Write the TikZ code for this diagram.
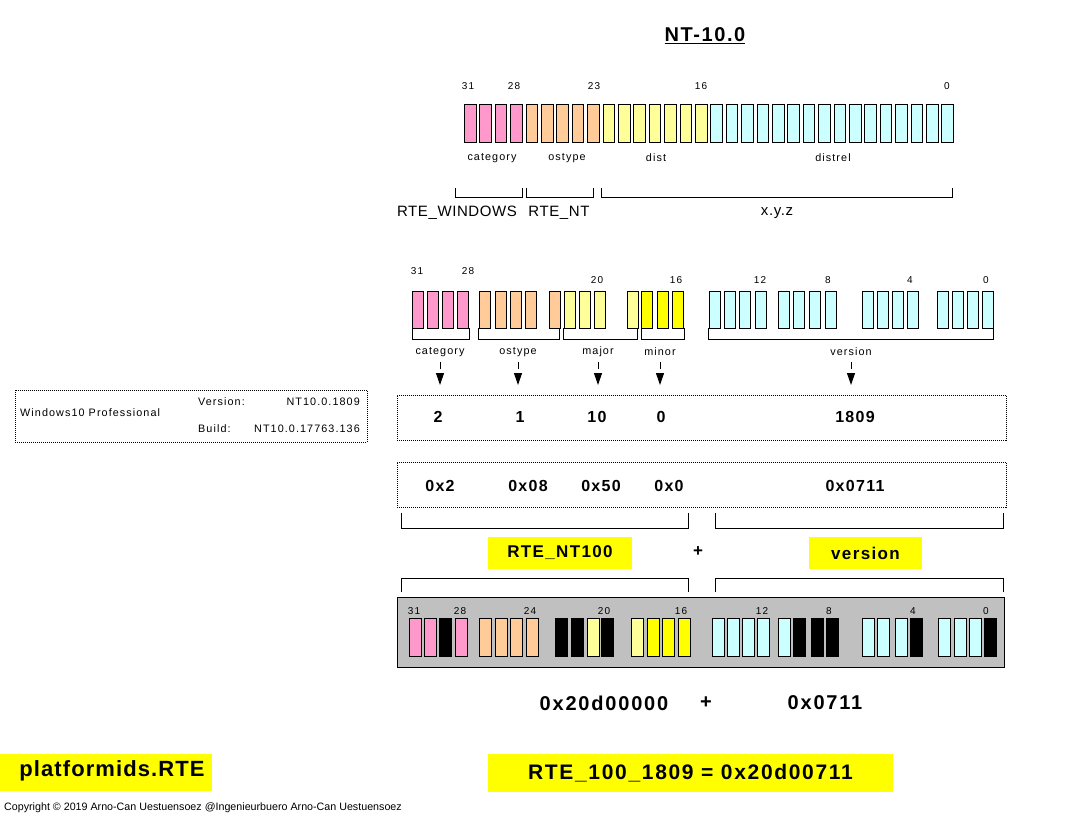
\documentclass[tikz,border=0pt]{standalone}
\usepackage{fontspec}
\setmainfont{Liberation Sans}
\newfontfamily\spf[LetterSpace=10]{Liberation Sans}
\newfontfamily\mdf[LetterSpace=4]{Liberation Sans}
\newfontfamily\bpf[LetterSpace=8]{Liberation Sans}
\newfontfamily\bgf[LetterSpace=9]{Liberation Sans}
\newfontfamily\bsf[LetterSpace=5]{Liberation Sans}
\usetikzlibrary{arrows.meta}
\definecolor{pk}{HTML}{FF99CC}
\definecolor{pc}{HTML}{FFCC99}
\definecolor{ly}{HTML}{FFFF99}
\definecolor{yl}{HTML}{FFFF00}
\definecolor{cy}{HTML}{CCFFFF}
\definecolor{bk}{HTML}{000000}
\definecolor{gr}{HTML}{C0C0C0}
\tikzset{
 bitbox/.style={draw=black, line width=1pt, inner sep=0pt, anchor=north west, minimum width=11.5pt, minimum height=38pt},
 bitnum/.style={font=\spf\fontsize{10}{11}\selectfont, inner sep=0pt},
 lbl/.style={font=\spf\fontsize{10.8}{12}\selectfont, inner sep=0pt},
 mid/.style={font=\mdf\fontsize{15}{17}\selectfont, inner sep=0pt},
 val/.style={font=\bpf\bfseries\fontsize{16}{18}\selectfont, inner sep=0pt},
 big/.style={font=\bgf\bfseries\fontsize{20}{22}\selectfont, inner sep=0pt},
 hl/.style={fill=yl, inner sep=0pt},
 brk/.style={line width=1pt},
 dotbox/.style={draw, line width=0.8pt, dash pattern=on 1pt off 1pt, inner sep=0pt, anchor=north west},
 arr/.style={line width=1pt, dash pattern=on 7pt off 40pt, shorten >=10pt, -{Triangle[length=12pt,width=8pt]}}
}
\begin{document}
\begin{tikzpicture}[x=1pt,y=-1pt]
\fill[white] (0,0) rectangle (1078,816);
\useasboundingbox (0,0) rectangle (1078,816);

% title
\node[font=\bpf\bfseries\fontsize{20}{24}\selectfont, inner sep=0pt] (title) at (705,36) {\underline{NT-10.0}};

% ---------- top bit row ----------
\foreach \c [count=\k from 0] in {pk,pk,pk,pk,pc,pc,pc,pc,pc,ly,ly,ly,ly,ly,ly,ly,cy,cy,cy,cy,cy,cy,cy,cy,cy,cy,cy,cy,cy,cy,cy,cy}{
  \pgfmathtruncatemacro\b{31-\k}
  \pgfmathsetmacro\bx{464+15.4*\k}
  \node[bitbox, fill=\c] (t\b) at (\bx,104) {};
}
\node[bitnum] (tn31) at (468,86) {31};
\node[bitnum] (tn28) at (514,86) {28};
\node[bitnum] (tn23) at (594,86) {23};
\node[bitnum] (tn16) at (701,86) {16};
\node[bitnum] (tn0) at (947,86) {0};
\node[lbl] (tcat) at (492,158) {category};
\node[lbl] (tos) at (567,158) {ostype};
\node[lbl] (tdist) at (656,158) {dist};
\node[lbl] (tdrel) at (833,158) {distrel};

\draw[brk] (455,188) |- (522,197) -- (522,188);
\draw[brk] (526,188) |- (593,197) -- (593,188);
\draw[brk] (601,188) |- (952,197) -- (952,188);
\node[mid] (rwin) at (457,213) {RTE\_WINDOWS};
\node[mid] (rnt) at (559,213) {RTE\_NT};
\node[mid] (xyz) at (777,213) {x.y.z};

% ---------- second bit row ----------
\foreach \x/\c [count=\k from 0] in {412/pk,427/pk,442/pk,457/pk,479/pc,495/pc,510/pc,525/pc,549/pc,564/ly,579/ly,594/ly,627/ly,641/yl,657/yl,672/yl,709/cy,724/cy,739/cy,755/cy,778/cy,793/cy,809/cy,825/cy,862/cy,877/cy,892/cy,907/cy,937/cy,952/cy,967/cy,982/cy}{
  \pgfmathtruncatemacro\b{31-\k}
  \node[bitbox, minimum width=11pt, minimum height=37pt, fill=\c] (m\b) at (\x,291) {};
}
\node[bitnum] (mn31) at (417,271) {31};
\node[bitnum] (mn28) at (468,271) {28};
\node[bitnum] (mn20) at (597,280) {20};
\node[bitnum] (mn16) at (676,280) {16};
\node[bitnum] (mn12) at (760,280) {12};
\node[bitnum] (mn8) at (828,280) {8};
\node[bitnum] (mn4) at (910,280) {4};
\node[bitnum] (mn0) at (986,280) {0};

\draw[brk] (412,328) |- (469,339) -- (469,328);
\draw[brk] (478,328) |- (559,339) -- (559,328);
\draw[brk] (563,328) |- (637,339) -- (637,328);
\draw[brk] (641,328) |- (684,339) -- (684,328);
\draw[brk] (708,328) |- (993,339) -- (993,328);
\node[lbl] (lcat) at (440,352) {category};
\node[lbl] (los) at (518,352) {ostype};
\node[lbl] (lmaj) at (598,352) {major};
\node[lbl] (lmin) at (660,352) {minor};
\node[lbl] (lver) at (851,352) {version};

% ---------- value boxes ----------
\node[dotbox, minimum width=609pt, minimum height=45pt] (vbox) at (397,395) {};
\node[dotbox, minimum width=609pt, minimum height=45pt] (hbox) at (397,462) {};
\coordinate (atop) at (0,362);
\foreach \n in {lcat,los,lmaj,lmin,lver}{
  \draw[arr] (\n.south |- atop) -- (\n.south |- vbox.north);
}
\node[val] (v2) at (438,417) {2};
\node[val] (v1) at (520,417) {1};
\node[val] (v10) at (597,417) {10};
\node[val] (v0) at (661,417) {0};
\node[val] (v1809) at (855,417) {1809};
\node[val] (h2) at (440,486) {0x2};
\node[val] (h08) at (528,486) {0x08};
\node[val] (h50) at (601,486) {0x50};
\node[val] (h0) at (669,486) {0x0};
\node[val] (h711) at (855,486) {0x0711};

% info box
\node[dotbox, minimum width=352pt, minimum height=52pt] (info) at (15,390) {};
\node[lbl, anchor=west] (iwin) at (20,413) {Windows10 Professional};
\node[lbl, anchor=west] (iver) at (198,402) {Version:};
\node[lbl, anchor=east] (iverv) at (360,402) {NT10.0.1809};
\node[lbl, anchor=west] (ibld) at (198,429) {Build:};
\node[lbl, anchor=east] (ibldv) at (360,429) {NT10.0.17763.136};

% brackets and sum
\draw[brk] (401,513) |- (688,528) -- (688,513);
\draw[brk] (715,513) |- (1003,528) -- (1003,513);
\node[hl, val, font=\bpf\bfseries\fontsize{17}{19}\selectfont, minimum width=144pt, minimum height=32pt] (rnt100) at (560,553) {RTE\_NT100};
\node[val, font=\bpf\bfseries\fontsize{17}{19}\selectfont] (plus1) at (698,552) {+};
\node[hl, val, font=\bpf\bfseries\fontsize{17}{19}\selectfont, minimum width=113pt, minimum height=32pt] (verhl) at (865.5,553) {version};
\draw[brk] (401,592) |- (688,578) -- (688,592);
\draw[brk] (715,592) |- (1003,578) -- (1003,592);

% ---------- gray result row ----------
\node[draw, fill=gr, line width=1pt, inner sep=0pt, anchor=north west, minimum width=607pt, minimum height=70pt] (gbox) at (397,597) {};
\foreach \x/\c [count=\k from 0] in {409/pk,424/pk,439/bk,455/pk,479/pc,495/pc,510/pc,526/pc,555/bk,571/bk,587/ly,601/bk,631/ly,647/yl,662/yl,678/yl,712/cy,727/cy,742/cy,757/cy,778/cy,793/bk,811/bk,826/bk,862/cy,877/cy,895/cy,910/bk,938/cy,954/cy,969/cy,984/bk}{
  \pgfmathtruncatemacro\b{31-\k}
  \node[bitbox, minimum width=12pt, fill=\c] (g\b) at (\x,618) {};
}
\node[bitnum] (gn31) at (414,611) {31};
\node[bitnum] (gn28) at (460,611) {28};
\node[bitnum] (gn24) at (530,611) {24};
\node[bitnum] (gn20) at (604,611) {20};
\node[bitnum] (gn16) at (681,611) {16};
\node[bitnum] (gn12) at (762,611) {12};
\node[bitnum] (gn8) at (829,611) {8};
\node[bitnum] (gn4) at (913,611) {4};
\node[bitnum] (gn0) at (986,611) {0};

% bottom results
\node[big] (r1) at (604,703) {0x20d00000};
\node[big] (rplus) at (706,703) {+};
\node[big] (r2) at (825,703) {0x0711};
\node[hl, font=\bpf\bfseries\fontsize{21}{23}\selectfont, minimum width=405pt, minimum height=38pt] (res) at (690.5,773) {RTE\_100\_1809 = 0x20d00711};
\node[hl, minimum width=212pt, minimum height=37pt] (pids) at (106,772.5) {};
\node[font=\bsf\bfseries\fontsize{22}{24}\selectfont, inner sep=0pt] (pidst) at (112,771) {platformids.RTE};

\node[font=\fontsize{10.7}{11}\selectfont, inner sep=0pt, anchor=west] (copy) at (4,808) {Copyright © 2019 Arno-Can Uestuensoez @Ingenieurbuero Arno-Can Uestuensoez};
\end{tikzpicture}
\end{document}
